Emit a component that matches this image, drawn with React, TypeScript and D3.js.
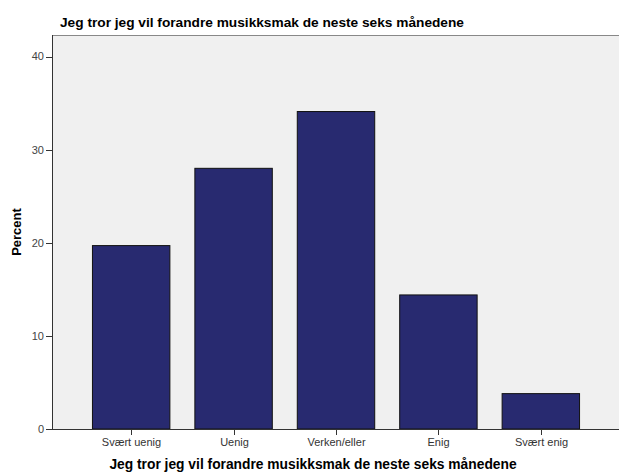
import React from "react";
import * as d3 from "d3";

const categories = ["Svært uenig", "Uenig", "Verken/eller", "Enig", "Svært enig"];
const percents = [19.7, 28.0, 34.1, 14.4, 3.8];
const yTicks = [0, 10, 20, 30, 40];
const title = "Jeg tror jeg vil forandre musikksmak de neste seks månedene";
const yLabel = "Percent";

const W = 619;
const H = 474;
const left = 52;
const right = 620;
const top = 35;
const bottom = 429;

export default function App() {
  const x = d3
    .scaleBand<string>()
    .domain(categories)
    .range([left, right])
    .paddingInner(0.244)
    .paddingOuter(0.395);
  const y = d3.scaleLinear().domain([0, 40]).range([bottom, 56.6]);
  const font = "'Liberation Sans', Arial, sans-serif";

  return (
    <svg
      width={W}
      height={H}
      style={{ position: "absolute", left: 0, top: 0, background: "#fff" }}
      fontFamily={font}
    >
      <rect x={left} y={top} width={right - left} height={bottom - top} fill="#f0f0f0" />
      <line x1={left} x2={right} y1={top + 0.5} y2={top + 0.5} stroke="#888" strokeWidth={1} />
      {categories.map((c, i) => (
        <rect
          key={c}
          x={x(c)!}
          y={y(percents[i])}
          width={x.bandwidth()}
          height={bottom - y(percents[i])}
          fill="#282a70"
          stroke="#111"
          strokeWidth={1}
        />
      ))}
      <line x1={left + 0.5} x2={left + 0.5} y1={top} y2={bottom} stroke="#333" />
      <line x1={left} x2={right} y1={bottom + 0.5} y2={bottom + 0.5} stroke="#333" />
      {yTicks.map((t) => (
        <g key={t}>
          <line x1={left - 6} x2={left} y1={Math.round(y(t)) + 0.5} y2={Math.round(y(t)) + 0.5} stroke="#333" />
          <text x={44} y={y(t)} dy="0.35em" textAnchor="end" fontSize={11} fill="#444">
            {t}
          </text>
        </g>
      ))}
      {categories.map((c) => {
        const cx = Math.round(x(c)! + x.bandwidth() / 2) + 0.5;
        return (
          <g key={c}>
            <line x1={cx} x2={cx} y1={bottom} y2={bottom + 6} stroke="#333" />
            <text x={cx} y={446} textAnchor="middle" fontSize={11} fill="#333">
              {c}
            </text>
          </g>
        );
      })}
      <text x={60} y={27} fontSize={13.7} fontWeight="bold" fill="#000">
        {title}
      </text>
      <text x={313} y={469} textAnchor="middle" fontSize={13.8} fontWeight="bold" fill="#000">
        {title}
      </text>
      <text
        transform={`translate(21, ${(top + bottom) / 2}) rotate(-90)`}
        textAnchor="middle"
        fontSize={13}
        fontWeight="bold"
        fill="#000"
      >
        {yLabel}
      </text>
    </svg>
  );
}
